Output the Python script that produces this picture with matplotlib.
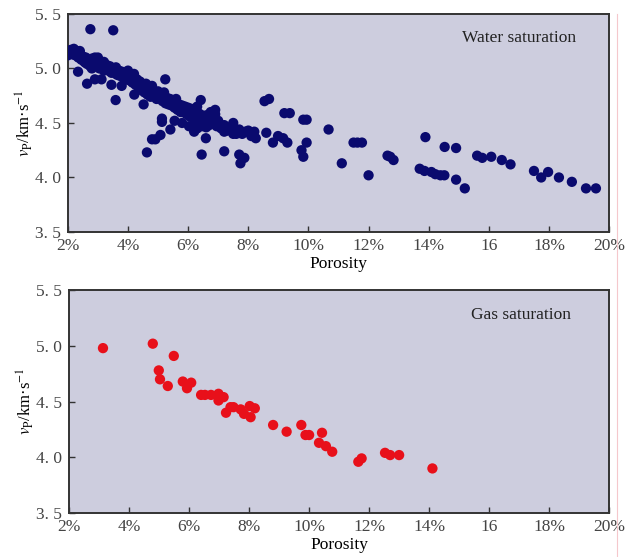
import numpy as np
import matplotlib
matplotlib.use('Agg')
import matplotlib.pyplot as plt
from matplotlib.lines import Line2D

plt.rcParams['font.family'] = ['Liberation Serif', 'DejaVu Serif']
plt.rcParams['mathtext.fontset'] = 'stix'

# water saturation: main trend band
water_x = [1.9, 1.95, 2.0, 2.05, 2.1, 2.15, 2.2, 2.25, 2.3, 2.35, 2.4, 2.45, 2.5, 2.55,
           2.6, 2.65, 2.7, 2.75, 2.8, 2.85, 2.9, 2.95, 3.0, 3.05, 3.1, 3.15, 3.2, 3.25,
           3.3, 3.35, 3.4, 3.45, 3.5, 3.55, 3.6, 3.65, 3.7, 3.75, 3.8, 3.85, 3.9, 3.95,
           4.0, 4.05, 4.1, 4.15, 4.2, 4.25, 4.3, 4.35, 4.4, 4.45, 4.5, 4.55, 4.6, 4.65,
           4.7, 4.75, 4.8, 4.85, 4.9, 4.95, 5.0, 5.05, 5.1, 5.15, 5.2, 5.25, 5.3, 5.35,
           5.4, 5.45, 5.5, 5.55, 5.6, 5.65, 5.7, 5.75, 5.8, 5.85, 5.9, 5.95, 6.0, 6.05,
           6.1, 6.15, 6.2, 6.25, 6.3, 6.35, 6.4, 6.45, 6.5, 6.55, 6.6, 6.7, 6.75, 6.8,
           6.9, 6.95, 7.0, 7.1, 7.2, 7.3, 7.4, 7.5, 7.6, 7.7, 7.8, 7.9, 8.0, 8.1, 8.2, 8.25,
           2.0, 2.2, 2.4, 2.6, 2.8, 3.0, 3.2, 3.6, 4.2, 4.0, 4.8, 5.6, 6.3, 6.6, 6.2,
           6.3, 7.5, 6.9, 5.55, 7.2, 7.6]
water_y = [5.17, 5.15, 5.16, 5.14, 5.17, 5.13, 5.15, 5.12, 5.16, 5.10, 5.13, 5.08, 5.11, 5.06,
           5.10, 5.04, 5.08, 5.02, 5.09, 5.05, 5.10, 5.03, 5.07, 5.00, 5.05, 5.02, 5.06, 4.99,
           5.03, 4.98, 5.02, 4.96, 5.00, 4.97, 5.01, 4.94, 4.98, 4.93, 4.97, 4.92, 4.96, 4.90,
           4.94, 4.89, 4.93, 4.87, 4.95, 4.85, 4.90, 4.83, 4.88, 4.80, 4.85, 4.78, 4.86, 4.76,
           4.82, 4.74, 4.80, 4.76, 4.78, 4.72, 4.79, 4.74, 4.76, 4.70, 4.78, 4.68, 4.73, 4.67,
           4.72, 4.66, 4.70, 4.64, 4.69, 4.62, 4.67, 4.60, 4.66, 4.60, 4.65, 4.58, 4.64, 4.56,
           4.63, 4.55, 4.62, 4.52, 4.60, 4.50, 4.58, 4.47, 4.55, 4.50, 4.57, 4.48, 4.60, 4.52,
           4.58, 4.47, 4.52, 4.45, 4.48, 4.43, 4.46, 4.40, 4.42, 4.44, 4.40, 4.42, 4.43, 4.38,
           4.42, 4.36,
           5.12, 5.18, 5.16, 5.05, 5.00, 5.10, 4.98, 4.95, 4.90, 4.98, 4.84, 4.72, 4.65,
           4.46, 4.42, 4.45, 4.50, 4.62, 4.52, 4.42, 4.40]

# water saturation: scattered points
water_x2 = [2.34, 2.64, 2.75, 2.9, 3.12, 3.45, 3.51, 3.59, 3.79, 4.21, 4.52, 4.63, 4.8,
            4.91, 5.08, 5.13, 5.13, 5.24, 5.41, 5.8, 6.03, 6.42, 6.45, 6.59, 7.2, 7.7, 7.74,
            7.87, 8.54, 8.69, 8.6, 8.82, 8.99, 9.16, 9.3, 9.2, 9.38, 9.83, 9.94, 9.77, 9.83,
            9.94, 10.67, 11.11, 11.5, 11.63, 11.78, 12.0, 12.63, 12.72, 12.83, 13.89, 13.7,
            13.86, 14.09, 14.22, 14.39, 14.52, 14.53, 14.91, 14.91, 15.2, 15.61, 15.78, 16.08,
            16.43, 16.72, 17.5, 17.74, 17.97, 18.33, 18.76, 19.23, 19.56]
water_y2 = [4.97, 4.86, 5.36, 4.90, 4.90, 4.85, 5.35, 4.71, 4.84, 4.76, 4.67, 4.23, 4.35,
            4.35, 4.39, 4.54, 4.51, 4.90, 4.44, 4.50, 4.47, 4.71, 4.21, 4.36, 4.24, 4.21, 4.13,
            4.18, 4.70, 4.72, 4.41, 4.32, 4.38, 4.36, 4.32, 4.59, 4.59, 4.53, 4.53, 4.25, 4.19,
            4.32, 4.44, 4.13, 4.32, 4.32, 4.32, 4.02, 4.20, 4.19, 4.16, 4.37, 4.08,
            4.06, 4.05, 4.03, 4.02, 4.02, 4.28, 4.27, 3.98, 3.90, 4.20, 4.18, 4.19,
            4.16, 4.12, 4.06, 4.00, 4.05, 4.00, 3.96, 3.90, 3.90]

# gas saturation
gas_x = [3.13, 4.79, 5.49, 4.99, 5.03, 5.29, 5.79, 5.93, 6.07, 6.4, 6.53, 6.73, 6.98, 6.98,
         7.15, 7.23, 7.38, 7.48, 7.72, 7.83, 8.02, 8.05, 8.19, 8.8, 9.25, 9.74, 9.88, 10.0,
         10.43, 10.33, 10.56, 10.77, 11.64, 11.75, 12.53, 12.7, 13.0, 14.11]
gas_y = [4.98, 5.02, 4.91, 4.78, 4.70, 4.64, 4.68, 4.62, 4.67, 4.56, 4.56, 4.56, 4.57, 4.51,
         4.54, 4.40, 4.45, 4.45, 4.43, 4.39, 4.46, 4.36, 4.44, 4.29, 4.23, 4.29, 4.20, 4.20,
         4.22, 4.13, 4.10, 4.05, 3.96, 3.99, 4.04, 4.02, 4.02, 3.90]

x_ticks = [2, 4, 6, 8, 10, 12, 14, 16, 18, 20]
x_ticklabels = ['2%', '4%', '6%', '8%', '10%', '12%', '14%', '16', '18%', '20%']
y_ticks = [3.5, 4.0, 4.5, 5.0, 5.5]
y_ticklabels = ['3. 5', '4. 0', '4. 5', '5. 0', '5. 5']

bg = '#CDCDDE'
fig = plt.figure(figsize=(6.28, 5.57), dpi=100)
ax1 = fig.add_axes([0.108, 0.5835, 0.862, 0.3915])
ax2 = fig.add_axes([0.110, 0.079, 0.860, 0.400])

def style(ax, title, tx):
    ax.set_facecolor(bg)
    ax.set_xlim(2, 20)
    ax.set_ylim(3.5, 5.5)
    ax.set_xticks(x_ticks)
    ax.set_xticklabels(x_ticklabels)
    ax.set_yticks(y_ticks)
    ax.set_yticklabels(y_ticklabels)
    ax.tick_params(direction='in', length=4, width=1, labelsize=12.5, colors='#333333',
                   labelcolor='#444444')
    ax.tick_params(axis='x', pad=4)
    ax.tick_params(axis='y', pad=5)
    for s in ax.spines.values():
        s.set_color('#333333')
        s.set_linewidth(1.4)
    ax.set_xlabel('Porosity', fontsize=12.5, labelpad=2)
    ax.set_ylabel(r'$v_\mathrm{P}$/km·s$^{-1}$', fontsize=12, labelpad=0)
    ax.text(tx, 0.89, title, transform=ax.transAxes, ha='right', va='center',
            fontsize=12.5, color='#222222')

ax1.scatter(water_x, water_y, s=55, color='#0A0A6E', edgecolors='none', zorder=3)
ax1.scatter(water_x2, water_y2, s=55, color='#0A0A6E', edgecolors='none', zorder=3)
style(ax1, 'Water saturation', 0.939)

ax2.scatter(gas_x, gas_y, s=55, color='#E8101A', edgecolors='none', zorder=3)
style(ax2, 'Gas saturation', 0.93)

fig.add_artist(Line2D([0.983, 0.983], [0.0, 0.975], transform=fig.transFigure,
                      color='#F5C8CC', linewidth=0.8))

fig.savefig('out.png', dpi=100)
